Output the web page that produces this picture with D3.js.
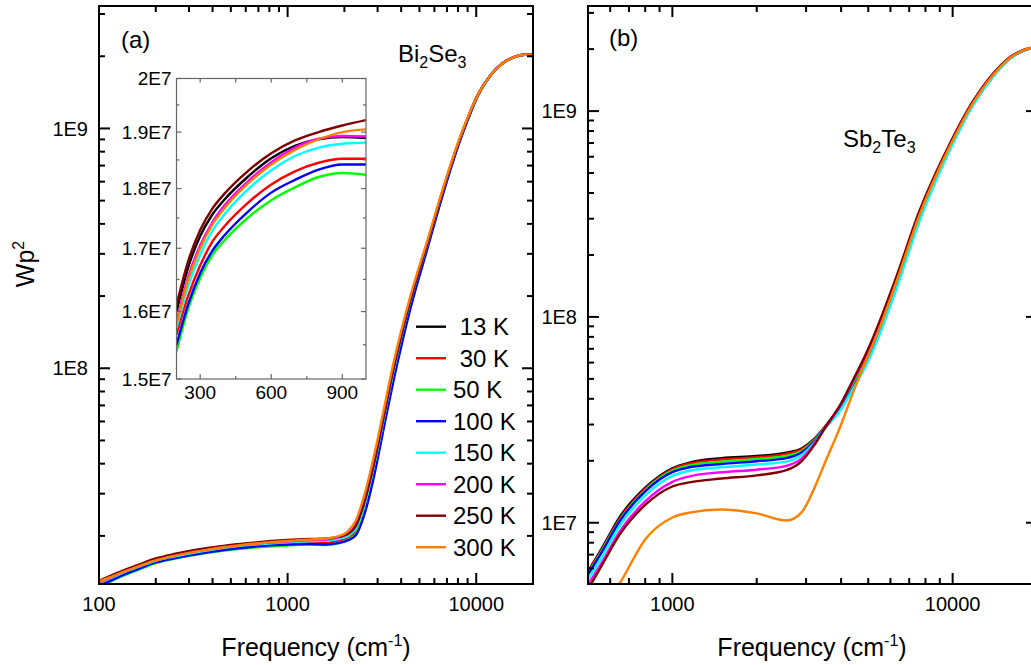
<!DOCTYPE html>
<html lang='en'>
<head>
  <meta charset='UTF-8'>
  <title>Wp2 vs frequency</title>
  <script src='https://d3js.org/d3.v7.min.js'></script>
  <style>
    body { margin: 0; background: #fff; }
    svg { display: block; font-family: 'Liberation Sans', Arial, sans-serif; }
  </style>
</head>
<body>
<svg width='1031' height='665'></svg>
<script>
// temperatures and colours (same order for every panel)
var legendLabels = [' 13 K', ' 30 K', '50 K', '100 K', '150 K', '200 K', '250 K', '300 K'];
var colors = ['#000000', '#ff0000', '#00ff00', '#0000ff', '#00ffff', '#ff00ff', '#800000', '#ff8000'];

// panel (a) Bi2Se3, main plot
var freqA = [100, 130, 160, 200, 250, 370, 560, 1000, 1300, 1600, 1850, 2100, 2300, 2550, 2850, 3000, 3300, 3600, 4000, 4500, 5500, 6700, 8000, 9000, 10200, 12000, 13700, 16000, 18000, 20000];
var bi13  = [1.29e7, 1.41e7, 1.50e7, 1.60e7, 1.67e7, 1.765e7, 1.84e7, 1.889e7, 1.91e7, 1.92e7, 1.95e7, 2.01e7, 2.18e7, 2.72e7, 3.85e7, 4.65e7, 6.75e7, 9.4e7, 1.35e8, 1.94e8, 3.3e8, 5.6e8, 8.6e8, 1.1e9, 1.38e9, 1.68e9, 1.86e9, 1.99e9, 2.03e9, 2.03e9];
var bi30  = [1.26e7, 1.38e7, 1.47e7, 1.565e7, 1.625e7, 1.72e7, 1.794e7, 1.852e7, 1.87e7, 1.87e7, 1.91e7, 1.97e7, 2.10e7, 2.60e7, 3.65e7, 4.42e7, 6.45e7, 9.0e7, 1.30e8, 1.88e8, 3.22e8, 5.5e8, 8.5e8, 1.09e9, 1.38e9, 1.68e9, 1.86e9, 1.99e9, 2.03e9, 2.03e9];
var bi50  = [1.22e7, 1.35e7, 1.44e7, 1.54e7, 1.605e7, 1.697e7, 1.768e7, 1.824e7, 1.84e7, 1.83e7, 1.86e7, 1.93e7, 2.04e7, 2.52e7, 3.55e7, 4.3e7, 6.3e7, 8.75e7, 1.27e8, 1.84e8, 3.18e8, 5.45e8, 8.45e8, 1.085e9, 1.37e9, 1.68e9, 1.86e9, 1.99e9, 2.03e9, 2.03e9];
var bi100 = [1.23e7, 1.36e7, 1.45e7, 1.55e7, 1.612e7, 1.705e7, 1.78e7, 1.842e7, 1.85e7, 1.84e7, 1.865e7, 1.92e7, 2.01e7, 2.45e7, 3.45e7, 4.18e7, 6.1e7, 8.5e7, 1.23e8, 1.80e8, 3.14e8, 5.4e8, 8.4e8, 1.08e9, 1.37e9, 1.68e9, 1.86e9, 1.99e9, 2.03e9, 2.03e9];
var bi150 = [1.27e7, 1.39e7, 1.48e7, 1.575e7, 1.64e7, 1.739e7, 1.818e7, 1.881e7, 1.90e7, 1.91e7, 1.94e7, 2.0e7, 2.15e7, 2.68e7, 3.8e7, 4.58e7, 6.65e7, 9.3e7, 1.34e8, 1.93e8, 3.28e8, 5.6e8, 8.6e8, 1.1e9, 1.38e9, 1.68e9, 1.86e9, 1.99e9, 2.03e9, 2.03e9];
var bi200 = [1.28e7, 1.40e7, 1.49e7, 1.585e7, 1.655e7, 1.753e7, 1.832e7, 1.892e7, 1.92e7, 1.93e7, 1.97e7, 2.05e7, 2.23e7, 2.8e7, 3.95e7, 4.78e7, 6.9e7, 9.7e7, 1.39e8, 1.98e8, 3.33e8, 5.65e8, 8.6e8, 1.1e9, 1.38e9, 1.68e9, 1.86e9, 1.99e9, 2.03e9, 2.03e9];
var bi250 = [1.30e7, 1.42e7, 1.51e7, 1.61e7, 1.68e7, 1.775e7, 1.85e7, 1.922e7, 1.94e7, 1.95e7, 1.98e7, 2.04e7, 2.2e7, 2.75e7, 3.9e7, 4.7e7, 6.8e7, 9.5e7, 1.36e8, 1.95e8, 3.3e8, 5.6e8, 8.6e8, 1.1e9, 1.38e9, 1.68e9, 1.86e9, 1.99e9, 2.03e9, 2.03e9];
var bi300 = [1.29e7, 1.40e7, 1.49e7, 1.58e7, 1.65e7, 1.749e7, 1.828e7, 1.905e7, 1.93e7, 1.95e7, 1.99e7, 2.1e7, 2.32e7, 2.95e7, 4.2e7, 5.05e7, 7.25e7, 1.01e8, 1.43e8, 2.03e8, 3.4e8, 5.7e8, 8.7e8, 1.11e9, 1.38e9, 1.68e9, 1.86e9, 1.99e9, 2.03e9, 2.03e9];

// panel (a) inset, 200-1000 cm-1
var freqIn = [200, 250, 300, 350, 400, 500, 600, 700, 800, 900, 1000];
var in13  = [1.60e7, 1.67e7, 1.72e7, 1.755e7, 1.78e7, 1.82e7, 1.853e7, 1.875e7, 1.887e7, 1.891e7, 1.889e7];
var in30  = [1.565e7, 1.625e7, 1.672e7, 1.71e7, 1.735e7, 1.775e7, 1.807e7, 1.83e7, 1.845e7, 1.852e7, 1.852e7];
var in50  = [1.54e7, 1.605e7, 1.652e7, 1.688e7, 1.712e7, 1.75e7, 1.78e7, 1.802e7, 1.82e7, 1.827e7, 1.824e7];
var in100 = [1.55e7, 1.612e7, 1.66e7, 1.695e7, 1.72e7, 1.76e7, 1.793e7, 1.815e7, 1.833e7, 1.842e7, 1.842e7];
var in150 = [1.575e7, 1.64e7, 1.69e7, 1.728e7, 1.755e7, 1.798e7, 1.832e7, 1.857e7, 1.872e7, 1.879e7, 1.881e7];
var in200 = [1.585e7, 1.655e7, 1.705e7, 1.742e7, 1.77e7, 1.812e7, 1.846e7, 1.872e7, 1.888e7, 1.893e7, 1.892e7];
var in250 = [1.61e7, 1.68e7, 1.73e7, 1.765e7, 1.79e7, 1.83e7, 1.862e7, 1.885e7, 1.90e7, 1.912e7, 1.922e7];
var in300 = [1.58e7, 1.65e7, 1.70e7, 1.738e7, 1.765e7, 1.808e7, 1.842e7, 1.868e7, 1.887e7, 1.90e7, 1.905e7];

// panel (b) Sb2Te3
var freqB = [500, 560, 650, 800, 1000, 1150, 1500, 2000, 2550, 2900, 3200, 3500, 4000, 4400, 5000, 5500, 6300, 7600, 9750, 11800, 13900, 16000, 18800, 20000];
var sb13  = [5.8e6, 7.5e6, 1.07e7, 1.48e7, 1.84e7, 1.96e7, 2.06e7, 2.11e7, 2.19e7, 2.30e7, 2.55e7, 2.93e7, 3.75e7, 4.8e7, 6.8e7, 9.3e7, 1.52e8, 3.15e8, 6.8e8, 1.1e9, 1.5e9, 1.82e9, 2.02e9, 2.05e9];
var sb30  = [5.75e6, 7.4e6, 1.05e7, 1.46e7, 1.82e7, 1.94e7, 2.03e7, 2.08e7, 2.16e7, 2.28e7, 2.53e7, 2.92e7, 3.72e7, 4.75e7, 6.7e7, 9.2e7, 1.5e8, 3.1e8, 6.75e8, 1.1e9, 1.5e9, 1.82e9, 2.02e9, 2.05e9];
var sb50  = [5.65e6, 7.3e6, 1.03e7, 1.44e7, 1.79e7, 1.90e7, 1.98e7, 2.04e7, 2.11e7, 2.24e7, 2.50e7, 2.90e7, 3.66e7, 4.6e7, 6.4e7, 8.7e7, 1.43e8, 3.0e8, 6.6e8, 1.08e9, 1.48e9, 1.8e9, 2.02e9, 2.05e9];
var sb100 = [5.6e6, 7.2e6, 1.02e7, 1.42e7, 1.76e7, 1.86e7, 1.93e7, 1.99e7, 2.06e7, 2.2e7, 2.47e7, 2.88e7, 3.6e7, 4.5e7, 6.2e7, 8.4e7, 1.39e8, 2.95e8, 6.5e8, 1.07e9, 1.47e9, 1.8e9, 2.01e9, 2.05e9];
var sb150 = [5.3e6, 6.8e6, 9.7e6, 1.36e7, 1.69e7, 1.79e7, 1.86e7, 1.92e7, 1.98e7, 2.14e7, 2.43e7, 2.87e7, 3.56e7, 4.45e7, 6.1e7, 8.3e7, 1.37e8, 2.9e8, 6.4e8, 1.06e9, 1.46e9, 1.79e9, 2.01e9, 2.05e9];
var sb200 = [5.0e6, 6.4e6, 9.1e6, 1.27e7, 1.58e7, 1.68e7, 1.76e7, 1.81e7, 1.89e7, 2.06e7, 2.4e7, 2.88e7, 3.77e7, 4.85e7, 6.9e7, 9.4e7, 1.54e8, 3.2e8, 6.85e8, 1.11e9, 1.51e9, 1.82e9, 2.02e9, 2.05e9];
var sb250 = [4.75e6, 6.2e6, 8.8e6, 1.22e7, 1.50e7, 1.57e7, 1.64e7, 1.70e7, 1.80e7, 2.0e7, 2.37e7, 2.88e7, 3.8e7, 4.9e7, 7.0e7, 9.6e7, 1.57e8, 3.25e8, 6.9e8, 1.11e9, 1.51e9, 1.82e9, 2.02e9, 2.05e9];
var sb300 = [3.0e6, 3.8e6, 5.1e6, 8.3e6, 1.06e7, 1.12e7, 1.16e7, 1.11e7, 1.025e7, 1.13e7, 1.46e7, 1.95e7, 3.0e7, 4.25e7, 6.5e7, 8.9e7, 1.48e8, 3.1e8, 6.7e8, 1.09e9, 1.49e9, 1.81e9, 2.02e9, 2.05e9];

// tick values and labels
var xMajorA = [100, 1000, 10000], xLabelsA = ['100', '1000', '10000'];
var yMajorA = [1e8, 1e9], yLabelsA = ['1E8', '1E9'];
var xMajorB = [1000, 10000], xLabelsB = ['1000', '10000'];
var yMajorB = [1e7, 1e8, 1e9], yLabelsB = ['1E7', '1E8', '1E9'];
var inXMajor = [300, 600, 900], inXLabels = ['300', '600', '900'], inXMinor = [450, 750];
var inYMajor = [1.5e7, 1.6e7, 1.7e7, 1.8e7, 1.9e7, 2e7], inYLabels = ['1.5E7', '1.6E7', '1.7E7', '1.8E7', '1.9E7', '2E7'];
var inYMinor = [1.55e7, 1.65e7, 1.75e7, 1.85e7, 1.95e7];

var svg = d3.select('svg');
var isPow10 = v => Math.abs(Math.log10(v) - Math.round(Math.log10(v))) < 1e-6;

// inward tick marks along one side of a frame
function tickMarks(vals, scale, side, pos, len, color, width) {
  var sel = svg.append('g').selectAll('line').data(vals).enter().append('line')
    .attr('stroke', color).attr('stroke-width', width);
  if (side === 'bottom' || side === 'top') {
    var dy = side === 'bottom' ? -len : len;
    sel.attr('x1', d => scale(d)).attr('x2', d => scale(d))
      .attr('y1', pos).attr('y2', pos + dy);
  } else {
    var dx = side === 'left' ? len : -len;
    sel.attr('y1', d => scale(d)).attr('y2', d => scale(d))
      .attr('x1', pos).attr('x2', pos + dx);
  }
}

function tickLabels(vals, labels, scale, side, pos, size) {
  var sel = svg.append('g').attr('font-size', size).attr('fill', '#000')
    .selectAll('text').data(vals).enter().append('text')
    .text((d, i) => labels[i]);
  if (side === 'bottom') {
    sel.attr('x', d => scale(d)).attr('y', pos).attr('text-anchor', 'middle');
  } else {
    sel.attr('x', pos).attr('y', d => scale(d)).attr('dy', '0.36em').attr('text-anchor', 'end');
  }
}

function drawFrame(p, x, y) {
  var allX = x.ticks(), allY = y.ticks();
  var minX = allX.filter(v => !isPow10(v)), majX = allX.filter(isPow10);
  var minY = allY.filter(v => !isPow10(v)), majY = allY.filter(isPow10);
  svg.append('rect')
    .attr('x', p.left).attr('y', p.top)
    .attr('width', p.right - p.left).attr('height', p.bottom - p.top)
    .attr('fill', 'none').attr('stroke', '#000').attr('stroke-width', 2);
  tickMarks(majX, x, 'bottom', p.bottom, 11, '#000', 2);
  tickMarks(minX, x, 'bottom', p.bottom, 6, '#000', 2);
  tickMarks(majX, x, 'top', p.top, 11, '#000', 2);
  tickMarks(minX, x, 'top', p.top, 6, '#000', 2);
  tickMarks(majY, y, 'left', p.left, 11, '#000', 2);
  tickMarks(minY, y, 'left', p.left, 6, '#000', 2);
  tickMarks(majY, y, 'right', p.right, 11, '#000', 2);
  tickMarks(minY, y, 'right', p.right, 6, '#000', 2);
  tickLabels(p.xMajor, p.xLabels, x, 'bottom', p.bottom + 27, 20);
  tickLabels(p.yMajor, p.yLabels, y, 'left', p.left - 11, 20);
}

function drawCurves(freq, list, x, y, clipId) {
  var line = d3.line()
    .x((d, i) => x(freq[i]))
    .y(d => y(d))
    .curve(d3.curveMonotoneX);
  svg.append('g').attr('clip-path', 'url(#' + clipId + ')')
    .selectAll('path').data(list)
    .enter().append('path')
    .attr('fill', 'none')
    .attr('stroke', (d, i) => colors[i])
    .attr('stroke-width', 2.4)
    .attr('stroke-linejoin', 'round')
    .attr('d', line);
}

function addClip(id, l, t, r, b) {
  svg.append('clipPath').attr('id', id).append('rect')
    .attr('x', l).attr('y', t).attr('width', r - l).attr('height', b - t);
}

// ---- panel (a)
var pA = {left: 99, right: 533, top: 6, bottom: 584, xMajor: xMajorA, xLabels: xLabelsA, yMajor: yMajorA, yLabels: yLabelsA};
var xA = d3.scaleLog().domain([100, 20000]).range([pA.left, pA.right]);
var yA = d3.scaleLog().domain([1.26e7, 3.24e9]).range([pA.bottom, pA.top]);
addClip('clipA', pA.left, pA.top, pA.right, pA.bottom);
drawCurves(freqA, [bi13, bi30, bi50, bi100, bi150, bi200, bi250, bi300], xA, yA, 'clipA');
drawFrame(pA, xA, yA);

// ---- panel (b)
var pB = {left: 588, right: 1037, top: 6, bottom: 584, xMajor: xMajorB, xLabels: xLabelsB, yMajor: yMajorB, yLabels: yLabelsB};
var xB = d3.scaleLog().domain([500, 20000]).range([pB.left, pB.right]);
var yB = d3.scaleLog().domain([5.04e6, 3.24e9]).range([pB.bottom, pB.top]);
addClip('clipB', pB.left, pB.top, pB.right, pB.bottom);
drawCurves(freqB, [sb13, sb30, sb50, sb100, sb150, sb200, sb250, sb300], xB, yB, 'clipB');
drawFrame(pB, xB, yB);

// ---- inset in (a)
var pI = {left: 176.5, right: 366, top: 78.5, bottom: 379};
var xI = d3.scaleLinear().domain([200, 1000]).range([pI.left, pI.right]);
var yI = d3.scaleLog().domain([1.5e7, 2e7]).range([pI.bottom, pI.top]);
svg.append('rect').attr('x', pI.left).attr('y', pI.top)
  .attr('width', pI.right - pI.left).attr('height', pI.bottom - pI.top).attr('fill', '#fff');
addClip('clipI', pI.left, pI.top, pI.right, pI.bottom);
drawCurves(freqIn, [in13, in30, in50, in100, in150, in200, in250, in300], xI, yI, 'clipI');
svg.append('rect').attr('x', pI.left).attr('y', pI.top)
  .attr('width', pI.right - pI.left).attr('height', pI.bottom - pI.top)
  .attr('fill', 'none').attr('stroke', '#666').attr('stroke-width', 1.2);
tickMarks(inXMajor, xI, 'bottom', pI.bottom, 5, '#666', 1.2);
tickMarks(inXMinor, xI, 'bottom', pI.bottom, 3, '#666', 1.2);
tickMarks(inXMajor.concat(inXMinor), xI, 'top', pI.top, 4, '#666', 1.2);
tickMarks(inYMajor, yI, 'left', pI.left, 5, '#666', 1.2);
tickMarks(inYMinor, yI, 'left', pI.left, 3, '#666', 1.2);
tickMarks(inYMajor, yI, 'right', pI.right, 5, '#666', 1.2);
tickMarks(inYMinor, yI, 'right', pI.right, 3, '#666', 1.2);
tickLabels(inXMajor, inXLabels, xI, 'bottom', pI.bottom + 20, 19);
tickLabels(inYMajor, inYLabels, yI, 'left', pI.left - 5, 19);

// ---- legend
var leg = svg.append('g').selectAll('g').data(legendLabels).enter().append('g')
  .attr('transform', (d, i) => 'translate(416,' + (326.7 + i * 31.5) + ')');
leg.append('line').attr('x1', 0).attr('x2', 30)
  .attr('stroke', (d, i) => colors[i]).attr('stroke-width', 2.4);
leg.append('text').attr('x', 37).attr('dy', '0.36em')
  .attr('font-size', 24).style('white-space', 'pre').text(d => d);

// ---- texts
function label(x, y, size, parts) {
  var t = svg.append('text').attr('x', x).attr('y', y).attr('font-size', size);
  parts.forEach(p => {
    t.append('tspan').attr('dy', p[1] || 0).attr('font-size', p[2] || size).text(p[0]);
  });
  return t;
}
label(121, 48, 24, [['(a)']]);
label(609, 46, 24, [['(b)']]);
label(398, 62, 24, [['Bi'], ['2', 6, 16], ['Se', -6], ['3', 6, 16]]);
label(843, 147, 24, [['Sb'], ['2', 6, 16], ['Te', -6], ['3', 6, 16]]);
label(316, 656, 25, [['Frequency (cm'], ['-1', -10, 16], [')', 10]]).attr('text-anchor', 'middle');
label(812, 656, 25, [['Frequency (cm'], ['-1', -10, 16], [')', 10]]).attr('text-anchor', 'middle');
label(0, 0, 25, [['Wp'], ['2', -10, 16]])
  .attr('text-anchor', 'middle')
  .attr('transform', 'translate(34,264) rotate(-90)');
</script>
</body>
</html>
